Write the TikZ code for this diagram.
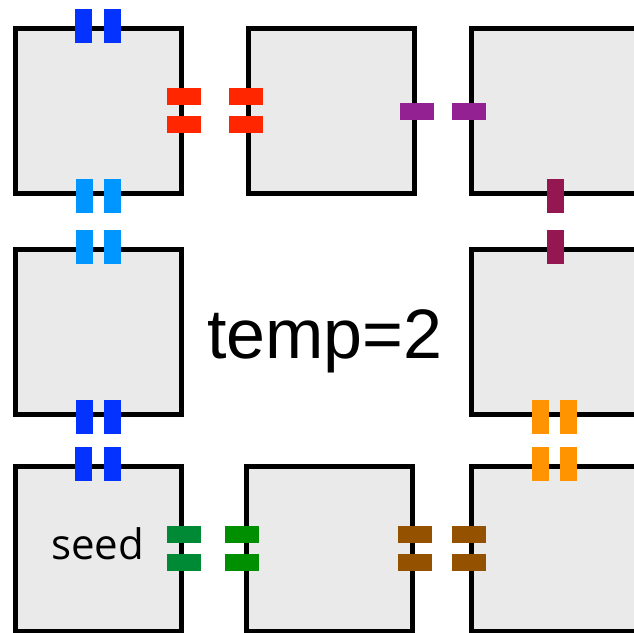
\documentclass[tikz,border=0pt]{standalone}
\usepackage{fontspec}
\usepackage{xcolor}
\usepackage{tikz}
\newfontfamily\helvfont{Liberation Sans}
\newfontfamily\seedfont{Open Sans}
\definecolor{tilegray}{HTML}{EAEAEA}
\definecolor{blueberry}{HTML}{0433FF}
\definecolor{aqua}{HTML}{0096FF}
\definecolor{maraschino}{HTML}{FF2600}
\definecolor{plum}{HTML}{942192}
\definecolor{maroon}{HTML}{941751}
\definecolor{tangerine}{HTML}{FF9300}
\definecolor{moss}{HTML}{008A36}
\definecolor{clover}{HTML}{008F00}
\definecolor{mocha}{HTML}{945200}

\begin{document}
\begin{tikzpicture}[x=1pt, y=-1pt,
    tile/.style={draw=black, fill=tilegray, line width=5pt, minimum width=166pt, minimum height=165pt, inner sep=0pt},
    vglue/.style={inner sep=0pt, minimum width=17pt, minimum height=34pt},
    hglue/.style={inner sep=0pt, minimum width=34pt, minimum height=17pt}]
        \useasboundingbox (0,0) rectangle (634,632);
        \clip (0,0) rectangle (634,632);
        
        % 瓦片 (Tiles)
        \node[tile] (T11) at (98,111) {};
        \node[tile] (T12) at (331,111) {};
        \node[tile] (T13) at (554.5,111) {};
        \node[tile] (T21) at (98,331.5) {};
        \node[tile] (T23) at (554.5,331.5) {};
        \node[tile] (T31) at (98,548.5) {};
        \node[tile] (T32) at (329,548.5) {};
        \node[tile] (T33) at (554.5,548.5) {};
        
        % 种子 和 温度
        \node[anchor=base, inner sep=0pt] (seed) at (97.5,559) {\seedfont\fontsize{42}{50}\selectfont seed};
        \node[anchor=base, inner sep=0pt] (temp) at (325,358) {\helvfont\fontsize{70}{84}\selectfont temp=2};
        
        % 上方蓝色粘合 (strength 2)
        \node[vglue, fill=blueberry] (b1) at ([xshift=-14.5pt]T11.north) {};
        \node[vglue, fill=blueberry] (b2) at ([xshift=14.5pt]T11.north) {};
        
        % 红色: T11 -- T12
        \node[hglue, fill=maraschino] (r1) at ([yshift=14.5pt]T11.east) {};
        \node[hglue, fill=maraschino] (r2) at ([yshift=-13.5pt]T11.east) {};
        \node[hglue, fill=maraschino] (r3) at ([yshift=14.5pt]T12.west) {};
        \node[hglue, fill=maraschino] (r4) at ([yshift=-13.5pt]T12.west) {};
        
        % 浅蓝: T11 -- T21
        \node[vglue, fill=aqua] (a1) at ([xshift=-14pt]T11.south) {};
        \node[vglue, fill=aqua] (a2) at ([xshift=14.5pt]T11.south) {};
        \node[vglue, fill=aqua] (a3) at ([xshift=-13.5pt]T21.north) {};
        \node[vglue, fill=aqua] (a4) at ([xshift=14.5pt]T21.north) {};
        
        % 紫色 (strength 1): T12 -- T13
        \node[hglue, fill=plum] (p1) at (T12.east) {};
        \node[hglue, fill=plum] (p2) at (T13.west) {};
        
        % 酒红 (strength 1): T13 -- T23
        \node[vglue, fill=maroon] (m1) at ([xshift=1pt]T13.south) {};
        \node[vglue, fill=maroon] (m2) at ([xshift=1pt]T23.north) {};
        
        % 蓝色: T21 -- T31
        \node[vglue, fill=blueberry] (b3) at ([xshift=-13.5pt]T21.south) {};
        \node[vglue, fill=blueberry] (b4) at ([xshift=14.5pt]T21.south) {};
        \node[vglue, fill=blueberry] (b5) at ([xshift=-14.5pt]T31.north) {};
        \node[vglue, fill=blueberry] (b6) at ([xshift=14.5pt]T31.north) {};
        
        % 橙色: T23 -- T33
        \node[vglue, fill=tangerine] (o1) at ([xshift=-14pt]T23.south) {};
        \node[vglue, fill=tangerine] (o2) at ([xshift=14pt]T23.south) {};
        \node[vglue, fill=tangerine] (o3) at ([xshift=-14pt]T33.north) {};
        \node[vglue, fill=tangerine] (o4) at ([xshift=14pt]T33.north) {};
        
        % 绿色: T31 -- T32
        \node[hglue, fill=moss] (g1) at ([yshift=14pt]T31.east) {};
        \node[hglue, fill=moss] (g2) at ([yshift=-14pt]T31.east) {};
        \node[hglue, fill=clover] (g3) at ([yshift=14pt,xshift=-1.5pt]T32.west) {};
        \node[hglue, fill=clover] (g4) at ([yshift=-14pt,xshift=-1.5pt]T32.west) {};
        
        % 棕色: T32 -- T33
        \node[hglue, fill=mocha] (c1) at ([yshift=14pt]T32.east) {};
        \node[hglue, fill=mocha] (c2) at ([yshift=-14pt]T32.east) {};
        \node[hglue, fill=mocha] (c3) at ([yshift=14pt]T33.west) {};
        \node[hglue, fill=mocha] (c4) at ([yshift=-14pt]T33.west) {};
    \end{tikzpicture}
\end{document}
